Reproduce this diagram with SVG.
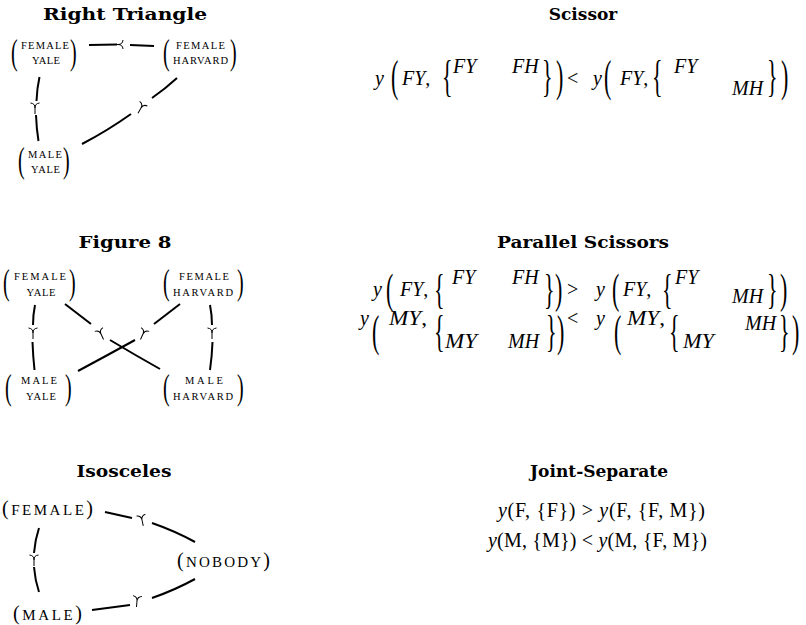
<svg xmlns="http://www.w3.org/2000/svg" width="806" height="625" viewBox="0 0 806 625">
<style>
.t{font-family:"DejaVu Serif","Liberation Serif",serif;font-weight:bold;font-size:17px;text-anchor:middle;fill:#000}
.sc{font-family:"Liberation Serif",serif;font-size:10.5px;text-anchor:middle;fill:#000}
.lb{font-family:"Liberation Serif",serif;font-size:15px;fill:#000}
.lp{font-size:20px}
.d{font-family:"Liberation Serif",serif;font-size:20px;fill:#000}
.D{font-family:"Liberation Serif",serif;font-size:22px;fill:#000}
.m{font-family:"Liberation Serif",serif;font-size:20px;fill:#000}
.i{font-style:italic}
.e{fill:none;stroke:#000;stroke-width:2}
.k{fill:none;stroke:#000;stroke-width:1}
</style>
<defs>
<path id="mk" class="k" d="M-4.5,-5 C-1.5,-4.6 0,-3.2 0,0 C0,-3.2 1.5,-4.6 4.5,-5 M0,0 L0,6"/>
</defs>
<rect width="806" height="625" fill="#fff"/>

<g id="titles">
<text class="t" x="125" y="20" textLength="164" lengthAdjust="spacingAndGlyphs">Right Triangle</text>
<text class="t" x="583" y="20">Scissor</text>
<text class="t" x="125" y="248" textLength="93" lengthAdjust="spacingAndGlyphs">Figure 8</text>
<text class="t" x="583" y="248" textLength="172" lengthAdjust="spacingAndGlyphs">Parallel Scissors</text>
<text class="t" x="124" y="477" textLength="95" lengthAdjust="spacingAndGlyphs">Isosceles</text>
<text class="t" x="599" y="477" textLength="138" lengthAdjust="spacingAndGlyphs">Joint-Separate</text>
</g>

<!-- Right Triangle nodes -->
<g id="rt-female-yale">
<text class="d" transform="translate(11,63.5) scale(1,1.837)">(</text>
<text class="sc" x="45" y="49" textLength="48">FEMALE</text>
<text class="sc" x="46" y="64" textLength="28">YALE</text>
<text class="d" transform="translate(70,63.5) scale(1,1.837)">)</text>
</g>
<g id="rt-female-harvard">
<text class="d" transform="translate(163,63.5) scale(1,1.837)">(</text>
<text class="sc" x="200.5" y="49" textLength="49">FEMALE</text>
<text class="sc" x="200.5" y="64" textLength="55">HARVARD</text>
<text class="d" transform="translate(230,63.5) scale(1,1.837)">)</text>
</g>
<g id="rt-male-yale">
<text class="d" transform="translate(18,171.7) scale(1,1.78)">(</text>
<text class="sc" x="45" y="158" textLength="34">MALE</text>
<text class="sc" x="45.5" y="173" textLength="29">YALE</text>
<text class="d" transform="translate(63,171.7) scale(1,1.78)">)</text>
</g>

<!-- Figure 8 nodes -->
<g id="f8-female-yale">
<text class="d" transform="translate(3,293.5) scale(1,1.837)">(</text>
<text class="sc" x="40" y="280" textLength="52">FEMALE</text>
<text class="sc" x="41" y="296" textLength="29">YALE</text>
<text class="d" transform="translate(69,293.5) scale(1,1.837)">)</text>
</g>
<g id="f8-female-harvard">
<text class="d" transform="translate(163,293.5) scale(1,1.837)">(</text>
<text class="sc" x="204" y="280" textLength="50">FEMALE</text>
<text class="sc" x="203" y="296" textLength="60">HARVARD</text>
<text class="d" transform="translate(237,293.5) scale(1,1.837)">)</text>
</g>
<g id="f8-male-yale">
<text class="d" transform="translate(5,398.5) scale(1,1.837)">(</text>
<text class="sc" x="39" y="384" textLength="36">MALE</text>
<text class="sc" x="41" y="400" textLength="30">YALE</text>
<text class="d" transform="translate(65,398.5) scale(1,1.837)">)</text>
</g>
<g id="f8-male-harvard">
<text class="d" transform="translate(163,398.5) scale(1,1.837)">(</text>
<text class="sc" x="204" y="384" textLength="38">MALE</text>
<text class="sc" x="203" y="400" textLength="60">HARVARD</text>
<text class="d" transform="translate(237,398.5) scale(1,1.837)">)</text>
</g>

<!-- Isosceles nodes -->
<g id="iso-female">
<text class="lb" x="2" y="515" textLength="91"><tspan class="lp">(</tspan>FEMALE<tspan class="lp">)</tspan></text>
</g>
<g id="iso-nobody">
<text class="lb" x="177" y="567" textLength="93"><tspan class="lp">(</tspan>NOBODY<tspan class="lp">)</tspan></text>
</g>
<g id="iso-male">
<text class="lb" x="13" y="620" textLength="69"><tspan class="lp">(</tspan>MALE<tspan class="lp">)</tspan></text>
</g>

<!-- Connectors -->
<g id="connectors">
<!-- Right Triangle -->
<path class="e" d="M39.5,77 Q37,88 36.5,101"/>
<path class="e" d="M36,115 Q36.5,129 38.5,141"/>
<use href="#mk" transform="translate(35,108)"/>
<path class="e" d="M89,45 L117,44.5"/>
<path class="e" d="M130,45 L154,46"/>
<use href="#mk" transform="translate(118,44.5) rotate(90)"/>
<path class="e" d="M177,78 Q165,89 152,98"/>
<path class="e" d="M131,114 Q107,131 82,144"/>
<use href="#mk" transform="translate(141,108) rotate(30)"/>
<!-- Figure 8 -->
<path class="e" d="M35,305 Q33,315 33,325"/>
<path class="e" d="M32.5,342 Q33,356 34.5,370"/>
<use href="#mk" transform="translate(33,333)"/>
<path class="e" d="M210,305 Q212,315 212,325"/>
<path class="e" d="M212.5,342 Q212,356 210,370"/>
<use href="#mk" transform="translate(212,333)"/>
<path class="e" d="M65,304 Q78,314 91,324"/>
<path class="e" d="M110,340 Q135,355 160,369"/>
<use href="#mk" transform="translate(101,334) rotate(-25)"/>
<path class="e" d="M180,304 Q167,314 154,324"/>
<path class="e" d="M135,340 Q106,356 78,371"/>
<use href="#mk" transform="translate(143,334) rotate(25)"/>
<!-- Isosceles -->
<path class="e" d="M105,512 L132,518"/>
<path class="e" d="M152,523 Q175,531 195,542"/>
<use href="#mk" transform="translate(142,520) rotate(-12)"/>
<path class="e" d="M92,610 L130,605"/>
<path class="e" d="M152,598 Q175,590 195,579"/>
<use href="#mk" transform="translate(137,601) rotate(5)"/>
<path class="e" d="M39,528 Q35,540 34,553"/>
<path class="e" d="M34,567 Q35,580 39,592"/>
<use href="#mk" transform="translate(34,560)"/>
</g>

<!-- Scissor formula -->
<g id="scissor">
<text class="m i" x="375" y="85">y</text>
<text class="D" transform="translate(391,91.3) scale(1,1.983)">(</text>
<text class="m" x="402" y="85"><tspan class="i">FY</tspan>,</text>
<text class="D" transform="translate(442,91.3) scale(1,1.983)">{</text>
<text class="m i" x="453" y="73">FY</text>
<text class="m i" x="512" y="73">FH</text>
<text class="D" transform="translate(542,91.3) scale(1,1.983)">}</text>
<text class="D" transform="translate(556,91.3) scale(1,1.983)">)</text>
<text class="m" x="567" y="85">&lt;</text>
<text class="m i" x="593" y="85">y</text>
<text class="D" transform="translate(604,91.3) scale(1,1.983)">(</text>
<text class="m" x="620" y="85"><tspan class="i">FY</tspan>,</text>
<text class="D" transform="translate(652,91.3) scale(1,1.983)">{</text>
<text class="m i" x="674" y="73">FY</text>
<text class="m i" x="732" y="95">MH</text>
<text class="D" transform="translate(767,91.3) scale(1,1.983)">}</text>
<text class="D" transform="translate(781,91.3) scale(1,1.983)">)</text>
</g>

<!-- Parallel Scissors -->
<g id="parallel-scissors">
<text class="m i" x="373" y="296">y</text>
<text class="D" transform="translate(386,302.7) scale(1,1.879)">(</text>
<text class="m" x="400" y="296"><tspan class="i">FY</tspan>,</text>
<text class="D" transform="translate(434,302.7) scale(1,1.879)">{</text>
<text class="m i" x="452" y="284">FY</text>
<text class="m i" x="512" y="284">FH</text>
<text class="D" transform="translate(544,302.7) scale(1,1.879)">}</text>
<text class="D" transform="translate(555,302.7) scale(1,1.879)">)</text>
<text class="m" x="567" y="296">&gt;</text>
<text class="m i" x="596" y="296">y</text>
<text class="D" transform="translate(612,302.7) scale(1,1.879)">(</text>
<text class="m" x="623" y="296"><tspan class="i">FY</tspan>,</text>
<text class="D" transform="translate(662,302.7) scale(1,1.879)">{</text>
<text class="m i" x="675" y="284">FY</text>
<text class="m i" x="732" y="303">MH</text>
<text class="D" transform="translate(767,302.7) scale(1,1.879)">}</text>
<text class="D" transform="translate(780,302.7) scale(1,1.879)">)</text>

<text class="m i" x="360" y="325">y</text>
<text class="D" transform="translate(372,346.1) scale(1,2.035)">(</text>
<text class="m" x="389" y="325" textLength="38" lengthAdjust="spacingAndGlyphs"><tspan class="i">MY</tspan>,</text>
<text class="D" transform="translate(434,346.1) scale(1,2.035)">{</text>
<text class="m i" x="445" y="348" textLength="32" lengthAdjust="spacingAndGlyphs">MY</text>
<text class="m i" x="508" y="348">MH</text>
<text class="D" transform="translate(546,346.1) scale(1,2.035)">}</text>
<text class="D" transform="translate(557,346.1) scale(1,2.035)">)</text>
<text class="m" x="567" y="325">&lt;</text>
<text class="m i" x="596" y="325">y</text>
<text class="D" transform="translate(614,346.1) scale(1,2.035)">(</text>
<text class="m" x="627" y="325" textLength="38" lengthAdjust="spacingAndGlyphs"><tspan class="i">MY</tspan>,</text>
<text class="D" transform="translate(669,346.1) scale(1,2.035)">{</text>
<text class="m i" x="683" y="348" textLength="31" lengthAdjust="spacingAndGlyphs">MY</text>
<text class="m i" x="745" y="330">MH</text>
<text class="D" transform="translate(779,346.1) scale(1,2.035)">}</text>
<text class="D" transform="translate(792,346.1) scale(1,2.035)">)</text>
</g>

<!-- Joint-Separate -->
<g id="joint-separate">
<text class="m" x="498" y="517" textLength="207" lengthAdjust="spacing"><tspan class="i">y</tspan>(F, {F}) &gt; <tspan class="i">y</tspan>(F, {F, M})</text>
<text class="m" x="488" y="547" textLength="219" lengthAdjust="spacing"><tspan class="i">y</tspan>(M, {M}) &lt; <tspan class="i">y</tspan>(M, {F, M})</text>
</g>
</svg>
